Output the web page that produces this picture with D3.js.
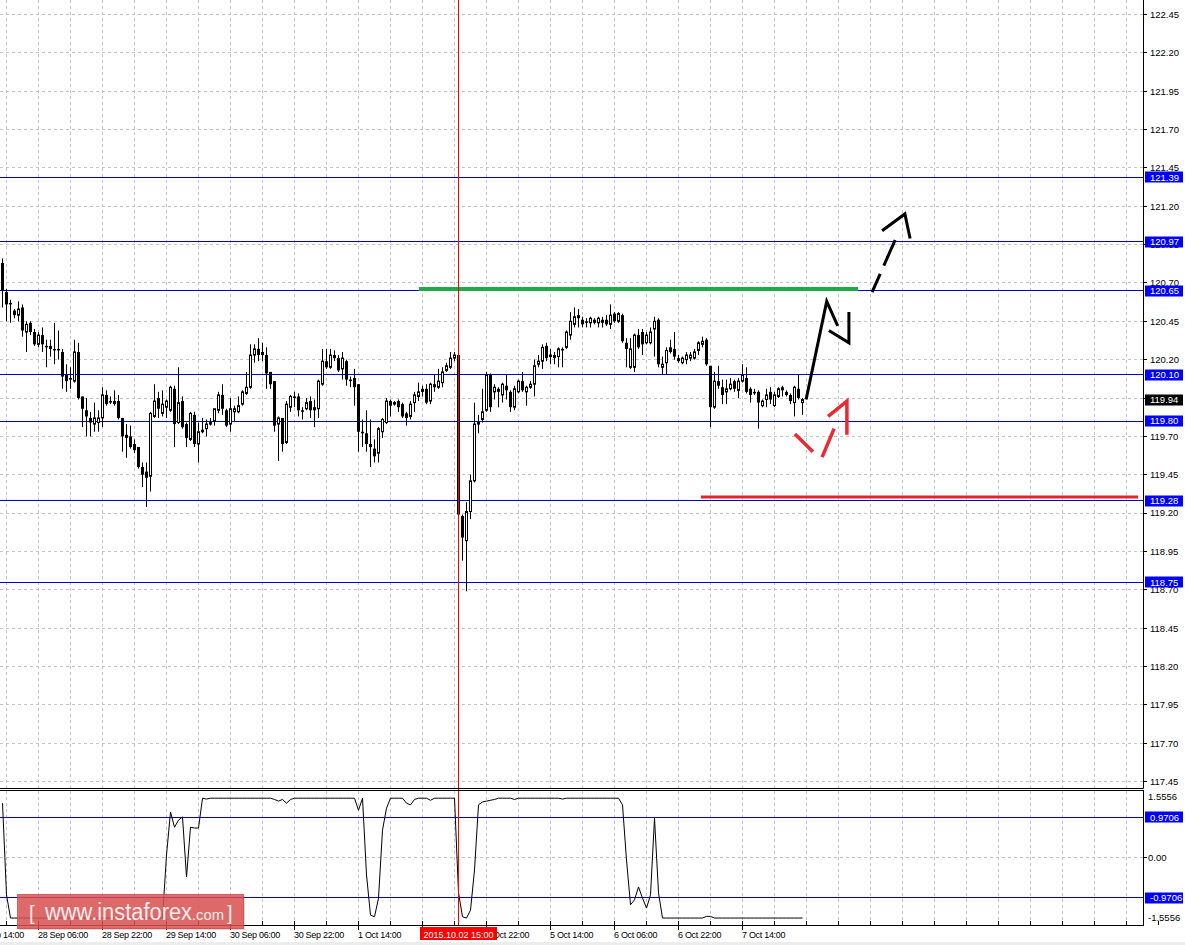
<!DOCTYPE html>
<html>
<head>
<meta charset="utf-8">
<script src="https://cdn.jsdelivr.net/npm/d3@7"></script>
<style>
body { margin: 0; background: #fff; }
svg { display: block; font-family: "Liberation Sans", Arial, sans-serif; }
</style>
</head>
<body>
<div id="chart"></div>
<script>
// H1 candles, bar 0 .. 200
var open = [
120.83,120.64,120.57,120.52,120.49,120.54,120.38,120.44,120.38,120.30,
120.36,120.29,120.29,120.27,120.27,120.25,120.10,120.08,120.06,120.25,
119.96,119.87,119.82,119.78,119.79,119.82,119.97,119.93,119.93,119.93,
119.82,119.71,119.70,119.65,119.63,119.50,119.47,119.44,119.83,119.95,
119.85,119.89,119.87,120.01,119.79,119.93,119.78,119.68,119.84,119.65,
119.73,119.75,119.78,119.80,119.87,119.97,119.87,119.78,119.86,119.86,
119.91,119.98,120.02,120.23,120.27,120.25,120.23,120.12,120.06,119.78,
119.82,119.66,119.89,119.96,119.96,119.87,119.88,119.93,119.89,119.88,
120.04,120.19,120.15,120.23,120.21,120.14,120.19,120.07,120.08,120.04,
119.73,119.72,119.65,119.62,119.59,119.73,119.79,119.93,119.91,119.93,
119.91,119.85,119.83,119.92,119.96,120.01,120.01,119.93,120.04,120.02,
120.05,120.13,120.15,120.21,120.23,119.18,119.02,119.21,119.41,119.78,
119.81,119.87,120.10,119.99,120.01,119.97,120.03,119.99,119.89,119.99,
120.06,119.99,120.02,120.04,120.17,120.19,120.29,120.22,120.23,120.22,
120.27,120.28,120.36,120.43,120.49,120.46,120.45,120.44,120.46,120.44,
120.46,120.46,120.43,120.50,120.45,120.49,120.31,120.15,120.15,120.36,
120.38,120.31,120.31,120.40,120.46,120.15,120.18,120.28,120.27,120.21,
120.18,120.20,120.21,120.21,120.26,120.30,120.33,120.16,119.89,120.06,
120.02,119.99,120.01,120.06,120.00,120.06,120.08,120.01,119.99,119.99,
119.90,119.94,119.99,119.90,119.96,120.02,119.99,119.97,119.92,120.01,
119.92];
var high = [
120.86,120.66,120.59,120.53,120.58,120.56,120.45,120.45,120.40,120.38,
120.41,120.33,120.33,120.44,120.39,120.27,120.17,120.15,120.33,120.31,
119.96,119.95,119.86,119.92,119.87,120.02,120.00,119.96,120.00,119.97,
119.82,119.78,119.77,119.68,119.63,119.53,119.53,119.86,120.04,119.99,
120.00,119.94,120.03,120.03,120.15,119.96,119.79,119.86,119.86,119.79,
119.82,119.81,119.82,119.88,119.99,120.04,119.88,119.95,119.90,119.96,
120.00,120.12,120.30,120.30,120.34,120.31,120.28,120.12,120.06,119.83,
119.82,119.93,119.97,119.99,119.98,119.89,119.95,119.96,119.94,120.07,
120.27,120.27,120.27,120.26,120.23,120.25,120.20,120.09,120.14,120.04,
119.81,119.87,119.81,119.68,119.76,119.82,119.95,119.94,119.93,119.94,
119.92,119.86,119.93,119.99,120.05,120.03,120.04,120.05,120.10,120.14,
120.15,120.18,120.25,120.25,120.25,119.19,119.27,119.45,119.92,119.84,
120.01,120.12,120.11,120.04,120.02,120.05,120.10,120.00,120.03,120.07,
120.12,120.03,120.06,120.20,120.23,120.30,120.31,120.27,120.25,120.28,
120.28,120.39,120.51,120.54,120.53,120.48,120.47,120.48,120.47,120.48,
120.48,120.49,120.56,120.51,120.51,120.50,120.34,120.34,120.37,120.40,
120.40,120.38,120.41,120.48,120.47,120.22,120.28,120.33,120.38,120.23,
120.22,120.25,120.25,120.27,120.32,120.35,120.34,120.16,120.12,120.16,
120.07,120.07,120.08,120.07,120.08,120.17,120.15,120.02,120.01,120.00,
119.94,120.01,120.02,119.99,120.02,120.03,120.00,119.98,120.03,120.10,
119.95];
var low = [
120.54,120.45,120.44,120.47,120.45,120.35,120.25,120.36,120.29,120.28,
120.25,120.15,120.22,120.17,120.20,120.01,119.99,120.01,120.05,119.94,
119.76,119.70,119.70,119.73,119.73,119.76,119.90,119.91,119.90,119.81,
119.60,119.56,119.62,119.59,119.49,119.37,119.24,119.34,119.82,119.82,
119.83,119.82,119.86,119.63,119.78,119.75,119.63,119.67,119.63,119.53,
119.72,119.70,119.77,119.77,119.85,119.84,119.76,119.73,119.80,119.85,
119.90,119.97,120.01,120.18,120.19,120.19,120.01,120.01,119.73,119.54,
119.60,119.65,119.86,119.89,119.83,119.81,119.87,119.82,119.76,119.82,
120.03,120.14,120.14,120.19,120.12,120.07,120.03,120.02,119.90,119.60,
119.63,119.60,119.50,119.53,119.53,119.69,119.78,119.83,119.90,119.86,
119.82,119.77,119.81,119.86,119.93,119.96,119.91,119.91,119.99,120.01,
120.02,120.12,120.14,120.19,119.17,118.89,118.69,119.16,119.40,119.72,
119.79,119.86,119.86,119.94,119.89,119.92,119.94,119.86,119.87,119.98,
119.99,119.90,120.01,119.96,120.15,120.14,120.19,120.17,120.17,120.15,
120.15,120.27,120.33,120.41,120.41,120.41,120.41,120.41,120.43,120.41,
120.41,120.42,120.40,120.44,120.44,120.31,120.15,120.14,120.12,120.27,
120.23,120.30,120.30,120.22,120.15,120.10,120.10,120.24,120.20,120.18,
120.17,120.17,120.19,120.20,120.23,120.28,120.16,119.76,119.88,120.01,
119.91,119.91,120.00,119.99,119.95,120.05,119.98,119.92,119.97,119.75,
119.89,119.89,119.91,119.89,119.95,119.96,119.96,119.91,119.83,119.94,
119.84];
var close = [
120.65,120.56,120.56,120.49,120.53,120.39,120.43,120.38,120.30,120.36,
120.30,120.28,120.27,120.26,120.26,120.09,120.06,120.07,120.25,119.95,
119.88,119.83,119.79,119.82,119.82,119.97,119.91,119.92,119.91,119.82,
119.70,119.69,119.63,119.61,119.50,119.45,119.43,119.85,119.93,119.88,
119.91,119.93,120.02,119.78,119.92,119.76,119.69,119.85,119.65,119.73,
119.74,119.78,119.79,119.88,119.97,119.88,119.77,119.88,119.88,119.90,
119.99,120.02,120.23,120.27,120.23,120.23,120.11,120.04,119.77,119.82,
119.65,119.91,119.96,119.95,119.87,119.86,119.92,119.87,119.87,120.06,
120.19,120.15,120.23,120.21,120.13,120.21,120.07,120.06,120.02,119.73,
119.72,119.65,119.63,119.57,119.75,119.81,119.93,119.90,119.92,119.89,
119.83,119.82,119.91,119.97,119.99,119.99,119.92,120.04,120.02,120.06,
120.12,120.16,120.21,120.23,119.19,119.04,119.21,119.41,119.78,119.79,
119.86,120.10,119.89,120.02,119.99,120.04,120.00,119.89,120.01,120.06,
120.00,120.02,120.04,120.16,120.19,120.28,120.21,120.23,120.21,120.27,
120.26,120.38,120.45,120.48,120.47,120.43,120.44,120.47,120.44,120.47,
120.44,120.43,120.49,120.45,120.50,120.32,120.27,120.27,120.36,120.28,
120.30,120.36,120.38,120.45,120.17,120.17,120.26,120.25,120.22,120.19,
120.21,120.23,120.23,120.25,120.31,120.32,120.17,119.89,120.06,120.03,
119.97,120.01,120.04,120.01,120.06,120.10,119.99,119.97,119.98,119.92,
119.93,119.97,119.94,119.97,120.01,120.00,119.97,119.93,120.02,119.95,
119.94];

// oscillator, one value per bar
var osc = [
1.31,-0.90,-1.46,-1.46,-1.46,-1.46,-1.46,-1.46,-1.46,-1.46,
-1.46,-1.46,-1.46,-1.46,-1.46,-1.46,-1.46,-1.46,-1.46,-1.46,
-1.46,-1.46,-1.46,-1.46,-1.46,-1.46,-1.46,-1.46,-1.46,-1.46,
-1.46,-1.46,-1.46,-1.46,-1.46,-1.46,-1.46,-1.46,-1.46,-1.46,
-1.46,0.06,1.10,0.73,0.90,0.98,-0.47,0.73,0.71,0.71,
1.43,1.41,1.43,1.43,1.43,1.43,1.43,1.43,1.43,1.43,
1.43,1.43,1.43,1.43,1.43,1.43,1.43,1.43,1.40,1.36,
1.40,1.31,1.40,1.43,1.43,1.43,1.43,1.43,1.43,1.43,
1.43,1.43,1.43,1.43,1.43,1.43,1.43,1.43,1.43,1.14,
1.43,-0.42,-1.39,-1.43,-0.98,0.66,1.19,1.43,1.43,1.43,
1.43,1.31,1.27,1.40,1.43,1.43,1.43,1.38,1.43,1.43,
1.43,1.43,1.43,1.43,-0.85,-1.43,-1.46,-1.27,-0.30,1.27,
1.34,1.36,1.38,1.40,1.43,1.43,1.43,1.43,1.40,1.43,
1.43,1.43,1.43,1.43,1.43,1.43,1.43,1.43,1.43,1.43,
1.41,1.43,1.43,1.43,1.43,1.43,1.43,1.43,1.43,1.43,
1.43,1.43,1.43,1.43,1.43,1.27,-0.06,-1.14,-1.02,-0.71,
-0.98,-1.22,-0.90,0.95,-0.85,-1.46,-1.46,-1.46,-1.46,-1.46,
-1.46,-1.46,-1.46,-1.46,-1.46,-1.46,-1.42,-1.42,-1.46,-1.46,
-1.46,-1.46,-1.46,-1.46,-1.46,-1.46,-1.46,-1.46,-1.46,-1.46,
-1.46,-1.46,-1.46,-1.46,-1.46,-1.46,-1.46,-1.46,-1.46,-1.46,
-1.46];

var priceTicks = [122.45,122.20,121.95,121.70,121.45,121.20,120.95,120.70,120.45,120.20,
                  119.95,119.70,119.45,119.20,118.95,118.70,118.45,118.20,117.95,117.70,117.45];
var levels = [121.39, 120.97, 120.65, 120.10, 119.80, 119.28, 118.75];
var lastPrice = 119.94;
var oscTicks = [1.5556, 0, -1.5556];
var oscTickText = ["1.5556", "0.00", "-1.5556"];
var oscLevels = [0.9706, -0.9706];

var timeLabels = ["25 Sep 14:00","28 Sep 06:00","28 Sep 22:00","29 Sep 14:00","30 Sep 06:00","30 Sep 22:00",
                  "1 Oct 14:00","2 Oct 06:00","2 Oct 22:00","5 Oct 14:00","6 Oct 06:00","6 Oct 22:00","7 Oct 14:00"];
var timeBars = [-7, 9, 25, 41, 57, 73, 89, 105, 121, 137, 153, 169, 185];
var cursorBar = 114, cursorText = "2015.10.02 15:00";

// drawn annotations: [bar, price]
var greenLine = [[104.1, 120.66], [213.9, 120.66]];
var redLine = [[174.6, 119.305], [283.9, 119.305]];
var blackUp = [[200.9, 119.94], [206.05, 120.58], [208.8, 120.42]];
var blackHead = [[206.6, 120.39], [211.6, 120.31], [211.6, 120.51]];
var blackDash = [[217.4, 120.64], [223.5, 121.00]];
var blackDashHead = [[219.9, 121.04], [225.6, 121.15], [226.9, 120.99]];
var redDown = [[198.1, 119.715], [202.6, 119.60]];
var redUp = [[204.9, 119.565], [207.9, 119.75]];
var redHead = [[206.4, 119.83], [211.1, 119.93], [211.1, 119.71]];

var W = 1185, H = 945, R = 1143;
var svg = d3.select("#chart").append("svg").attr("width", W).attr("height", H);

var x = d3.scaleLinear().domain([0, 200]).range([2.5, 802.5]);
var y = d3.scaleLinear().domain([117.45, 122.45]).range([781.5, 14.5]);
var yo = d3.scaleLinear().domain([-1.5556, 1.5556]).range([922, 793]);
function crisp(v) { return Math.round(v - 0.5) + 0.5; }

var defs = svg.append("defs");
defs.append("clipPath").attr("id", "clipMain").append("rect")
  .attr("x", 0).attr("y", 0).attr("width", R).attr("height", 788);
defs.append("clipPath").attr("id", "clipOsc").append("rect")
  .attr("x", 0).attr("y", 791).attr("width", R).attr("height", 134);

var main = svg.append("g").attr("clip-path", "url(#clipMain)");
var sub = svg.append("g").attr("clip-path", "url(#clipOsc)");

// grid
var gridBars = d3.range(1, 290, 8);
[[main, 0, 788], [sub, 791, 925]].forEach(function(p) {
  p[0].selectAll(".vg").data(gridBars).enter().append("line")
    .attr("x1", function(d) { return crisp(x(d)); }).attr("x2", function(d) { return crisp(x(d)); })
    .attr("y1", p[1]).attr("y2", p[2])
    .attr("stroke", "#c4c4c4").attr("stroke-dasharray", "3,3");
});
main.selectAll(".hg").data(priceTicks).enter().append("line")
  .attr("x1", 0).attr("x2", R)
  .attr("y1", function(d) { return crisp(y(d)); }).attr("y2", function(d) { return crisp(y(d)); })
  .attr("stroke", "#c4c4c4").attr("stroke-dasharray", "3,3");
sub.append("line").attr("x1", 0).attr("x2", R)
  .attr("y1", crisp(yo(0))).attr("y2", crisp(yo(0)))
  .attr("stroke", "#c4c4c4").attr("stroke-dasharray", "3,3");

// level lines
main.selectAll(".lv").data(levels).enter().append("line")
  .attr("x1", 0).attr("x2", R)
  .attr("y1", function(d) { return crisp(y(d)); }).attr("y2", function(d) { return crisp(y(d)); })
  .attr("stroke", "#0000c8");
sub.selectAll(".olv").data(oscLevels).enter().append("line")
  .attr("x1", 0).attr("x2", R)
  .attr("y1", function(d) { return crisp(yo(d)); }).attr("y2", function(d) { return crisp(yo(d)); })
  .attr("stroke", "#0000c8");

// candles
var bars = d3.range(open.length);
main.selectAll(".wick").data(bars).enter().append("line")
  .attr("x1", function(i) { return x(i); }).attr("x2", function(i) { return x(i); })
  .attr("y1", function(i) { return y(high[i]); }).attr("y2", function(i) { return y(low[i]); })
  .attr("stroke", "#000");
main.selectAll(".body").data(bars).enter().append("rect")
  .attr("x", function(i) { return close[i] > open[i] ? x(i) - 1 : x(i) - 1.5; })
  .attr("width", function(i) { return close[i] > open[i] ? 2 : 3; })
  .attr("y", function(i) { return y(Math.max(open[i], close[i])); })
  .attr("height", function(i) { return Math.max(1, Math.abs(y(open[i]) - y(close[i]))); })
  .attr("fill", function(i) { return close[i] > open[i] ? "#fff" : "#000"; })
  .attr("stroke", function(i) { return close[i] > open[i] ? "#000" : "none"; })
  .attr("stroke-width", 1);

// annotations
var line = d3.line().x(function(d) { return x(d[0]); }).y(function(d) { return y(d[1]); });
function draw(pts, color, width, dash) {
  var p = main.append("path").attr("d", line(pts)).attr("fill", "none")
    .attr("stroke", color).attr("stroke-width", width)
    .attr("stroke-linejoin", "miter").attr("stroke-linecap", "butt");
  if (dash) p.attr("stroke-dasharray", dash);
}
draw(greenLine, "#22a84a", 4);
draw(redLine, "#e8222c", 3);
draw(blackUp, "#000", 3);
draw(blackHead, "#000", 3);
draw(blackDash, "#000", 3, "20,9,28,9");
draw(blackDashHead, "#000", 3);
draw(redDown, "#ee2830", 3.5);
draw(redUp, "#ee2830", 3.5);
draw(redHead, "#ee2830", 3.5);

// oscillator
var oline = d3.line().x(function(d, i) { return x(i); }).y(function(d) { return yo(d); });
sub.append("path").attr("d", oline(osc)).attr("fill", "none").attr("stroke", "#000").attr("stroke-width", 1);

// cursor line
svg.append("line").attr("x1", x(cursorBar)).attr("x2", x(cursorBar)).attr("y1", 0).attr("y2", 925)
  .attr("stroke", "#ff0000");

// frames
svg.append("line").attr("x1", 0).attr("x2", R + 0.5).attr("y1", 788.5).attr("y2", 788.5).attr("stroke", "#000");
svg.append("line").attr("x1", R + 0.5).attr("x2", R + 0.5).attr("y1", 0).attr("y2", 788.5).attr("stroke", "#000");
svg.append("rect").attr("x", -1).attr("y", 790.5).attr("width", R + 1.5).attr("height", 135)
  .attr("fill", "none").attr("stroke", "#000");

// right price axis
var axisR = svg.append("g").attr("font-size", "9.5px");
axisR.selectAll(".pt").data(priceTicks).enter().append("line")
  .attr("x1", R).attr("x2", R + 4)
  .attr("y1", function(d) { return crisp(y(d)); }).attr("y2", function(d) { return crisp(y(d)); })
  .attr("stroke", "#000");
axisR.selectAll(".ptl").data(priceTicks).enter().append("text")
  .attr("x", R + 7).attr("y", function(d) { return y(d); }).attr("dy", "0.36em")
  .text(function(d) { return d.toFixed(2); });
function priceBox(yy, txt, fill) {
  axisR.append("rect").attr("x", R + 2).attr("y", Math.round(yy) - 5.5).attr("width", 38).attr("height", 11).attr("fill", fill);
  axisR.append("text").attr("x", R + 7).attr("y", yy).attr("dy", "0.36em").attr("fill", "#fff").text(txt);
}
levels.forEach(function(v) { priceBox(y(v), v.toFixed(2), "#0000ff"); });
priceBox(y(lastPrice), lastPrice.toFixed(2), "#000");

// oscillator axis
axisR.selectAll(".ot").data(oscTicks).enter().append("text")
  .attr("x", R + 5)
  .attr("y", function(d, i) { return i === 0 ? 797 : (i === 2 ? 918 : yo(d)); }).attr("dy", "0.36em")
  .text(function(d, i) { return oscTickText[i]; });
axisR.append("line").attr("x1", R).attr("x2", R + 4).attr("y1", crisp(yo(0))).attr("y2", crisp(yo(0))).attr("stroke", "#000");
oscLevels.forEach(function(v) { priceBox(yo(v), v.toFixed(4), "#0000ff"); });

// time axis
var axisB = svg.append("g").attr("font-size", "9px");
axisB.selectAll(".mt").data(gridBars).enter().append("line")
  .attr("x1", function(d) { return crisp(x(d)); }).attr("x2", function(d) { return crisp(x(d)); })
  .attr("y1", 921).attr("y2", 925).attr("stroke", "#000");
axisB.selectAll(".tt").data(timeBars).enter().append("line")
  .attr("x1", function(d) { return crisp(x(d)); }).attr("x2", function(d) { return crisp(x(d)); })
  .attr("y1", 925).attr("y2", 930).attr("stroke", "#000");
axisB.selectAll(".tl").data(timeBars).enter().append("text")
  .attr("x", function(d) { return x(d) - 0.5; }).attr("y", 938)
  .attr("letter-spacing", "-0.3px")
  .text(function(d, i) { return timeLabels[i]; });
axisB.append("rect").attr("x", x(cursorBar) - 38.5).attr("y", 927).attr("width", 77).attr("height", 13).attr("fill", "#ff0000");
axisB.append("text").attr("x", x(cursorBar)).attr("y", 937.5).attr("text-anchor", "middle")
  .attr("fill", "#fff").text(cursorText);
svg.append("rect").attr("x", 0).attr("y", 942).attr("width", W).attr("height", 3).attr("fill", "#ececec");

// watermark
var wm = svg.append("g");
wm.append("rect").attr("x", 19).attr("y", 896).attr("width", 226).attr("height", 34)
  .attr("fill", "#b04040").attr("fill-opacity", 0.25);
wm.append("rect").attr("x", 17.5).attr("y", 894.5).attr("width", 226).attr("height", 34)
  .attr("fill", "#d95252").attr("fill-opacity", 0.82).attr("stroke", "#c54848").attr("stroke-opacity", 0.8);
var wt = wm.append("text").attr("y", 920).attr("fill", "#fbecec");
wt.append("tspan").attr("x", 29).attr("font-size", "20px").text("[");
wt.append("tspan").attr("x", 45).attr("font-size", "23px").attr("textLength", 147).attr("lengthAdjust", "spacingAndGlyphs").text("www.instaforex");
wt.append("tspan").attr("x", 192).attr("font-size", "15px").attr("textLength", 32).attr("lengthAdjust", "spacingAndGlyphs").text(".com");
wt.append("tspan").attr("x", 227).attr("font-size", "20px").text("]");
</script>
</body>
</html>
